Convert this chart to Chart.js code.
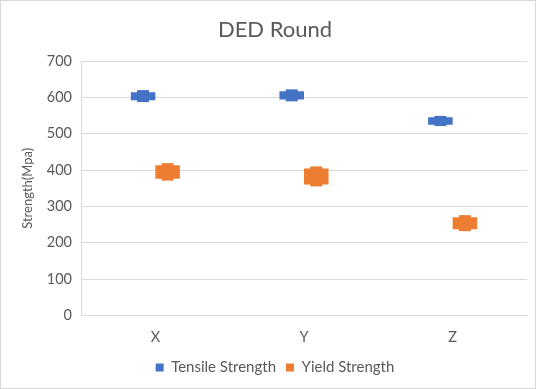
<!DOCTYPE html>
<html>
<head>
<meta charset="utf-8">
<script src="https://cdn.jsdelivr.net/npm/chart.js@4/dist/chart.umd.min.js"></script>
<style>
  html, body { margin: 0; padding: 0; background: #ffffff; }
  #wrap { position: relative; width: 536px; height: 389px; }
</style>
</head>
<body>
<div id="wrap"><canvas id="chart"></canvas></div>
<script>
// Directions tested
const categories = ['X', 'Y', 'Z'];

// Tensile strength (MPa): box range and whisker range
const tensileLow      = [592, 594, 525];
const tensileHigh     = [614, 617, 545];
const tensileErrLow   = [587, 589, 521];
const tensileErrHigh  = [620, 622, 549];

// Yield strength (MPa): box range and whisker range
const yieldLow        = [376, 360, 237];
const yieldHigh       = [413, 404, 270];
const yieldErrLow     = [371, 355, 232];
const yieldErrHigh    = [419, 410, 276];

// Value axis
const yMin = 0;
const yMax = 700;
const yStep = 100;

const BLUE = '#4472C4';
const ORANGE = '#ED7D31';
const TEXT = '#595959';
const GRID = '#d9d9d9';
const FONT = 'Lato, "Noto Sans", sans-serif';

const whiskers = [
  { low: tensileErrLow, high: tensileErrHigh },
  { low: yieldErrLow, high: yieldErrHigh }
];

// Draws the error range as a narrow block behind every bar
const whiskerPlugin = {
  id: 'whiskers',
  beforeDatasetsDraw(chart) {
    const ctx = chart.ctx;
    const y = chart.scales.y;
    chart.data.datasets.forEach((ds, di) => {
      const meta = chart.getDatasetMeta(di);
      const w = whiskers[di];
      ctx.save();
      ctx.fillStyle = ds.backgroundColor;
      meta.data.forEach((bar, i) => {
        const yl = y.getPixelForValue(w.low[i]);
        const yh = y.getPixelForValue(w.high[i]);
        const half = 6;
        ctx.fillRect(bar.x - half, yh, half * 2, yl - yh);
      });
      ctx.restore();
    });
  }
};

// Thin outline round the whole chart
const framePlugin = {
  id: 'frame',
  afterDraw(chart) {
    const ctx = chart.ctx;
    ctx.save();
    ctx.strokeStyle = GRID;
    ctx.lineWidth = 1;
    ctx.strokeRect(0.5, 0.5, chart.width - 1, chart.height - 1);
    ctx.restore();
  }
};

new Chart(document.getElementById('chart'), {
  type: 'bar',
  data: {
    labels: categories,
    datasets: [
      {
        label: 'Tensile Strength',
        data: tensileLow.map((v, i) => [v, tensileHigh[i]]),
        backgroundColor: BLUE,
        borderWidth: 0
      },
      {
        label: 'Yield Strength',
        data: yieldLow.map((v, i) => [v, yieldHigh[i]]),
        backgroundColor: ORANGE,
        borderWidth: 0
      }
    ]
  },
  options: {
    responsive: true,
    maintainAspectRatio: false,
    animation: false,
    devicePixelRatio: 1,
    categoryPercentage: 0.33,
    barPercentage: 1.0,
    layout: { padding: { left: 23, right: 9, top: 0, bottom: 4 } },
    plugins: {
      title: {
        display: true,
        text: 'DED Round',
        color: TEXT,
        font: { family: FONT, size: 22, weight: 'normal' },
        padding: { top: 17, bottom: 17.6 }
      },
      legend: {
        position: 'bottom',
        labels: {
          color: TEXT,
          font: { family: FONT, size: 15 },
          boxWidth: 8,
          boxHeight: 8,
          padding: 10
        }
      },
      tooltip: { enabled: false }
    },
    scales: {
      x: {
        grid: { display: false, drawTicks: false },
        border: { display: true, color: GRID },
        ticks: { color: TEXT, font: { family: FONT, size: 14.5 }, padding: 13 },
        afterFit(scale) { scale.height = 34.5; }
      },
      y: {
        min: yMin,
        max: yMax,
        ticks: { stepSize: yStep, color: TEXT, font: { family: FONT, size: 14.5 }, padding: 9 },
        grid: { color: GRID, drawTicks: false },
        border: { display: true, color: GRID },
        title: {
          display: true,
          text: 'Strength(Mpa)',
          color: TEXT,
          font: { family: FONT, size: 13 },
          padding: { top: -2.5, bottom: 0 }
        },
        afterFit(scale) { scale.width = 58; }
      }
    }
  },
  plugins: [whiskerPlugin, framePlugin]
});
</script>
</body>
</html>
